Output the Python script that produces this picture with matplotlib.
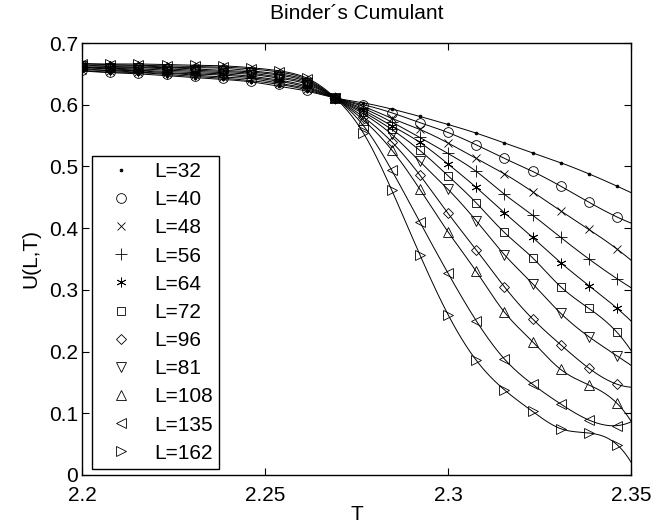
import numpy as np
import matplotlib
matplotlib.use("Agg")
import matplotlib.pyplot as plt

plt.rcParams["font.family"] = ["Liberation Sans", "DejaVu Sans"]

# temperatures of the simulated points
T = [2.2, 2.2077, 2.2154, 2.2231, 2.2308, 2.2385, 2.2462, 2.2538, 2.2615, 2.2692,
     2.2769, 2.2846, 2.2923, 2.3, 2.3077, 2.3154, 2.3231, 2.3308, 2.3385, 2.3462]

# U(L,T) for every lattice size
U_32 = [0.655, 0.652, 0.650, 0.647, 0.644, 0.641, 0.637, 0.630, 0.622, 0.611,
        0.603, 0.593, 0.581, 0.568, 0.554, 0.538, 0.522, 0.506, 0.488, 0.468]
U_40 = [0.656, 0.653, 0.652, 0.649, 0.646, 0.643, 0.639, 0.633, 0.624, 0.611,
        0.600, 0.587, 0.571, 0.555, 0.535, 0.513, 0.492, 0.468, 0.442, 0.418]
U_48 = [0.657, 0.655, 0.653, 0.651, 0.648, 0.645, 0.642, 0.635, 0.626, 0.611,
        0.597, 0.578, 0.560, 0.538, 0.513, 0.488, 0.459, 0.428, 0.398, 0.366]
U_56 = [0.659, 0.656, 0.655, 0.652, 0.650, 0.648, 0.644, 0.638, 0.628, 0.611,
        0.594, 0.572, 0.547, 0.521, 0.492, 0.455, 0.421, 0.385, 0.350, 0.318]
U_64 = [0.660, 0.658, 0.656, 0.654, 0.652, 0.650, 0.646, 0.640, 0.630, 0.611,
        0.591, 0.566, 0.539, 0.504, 0.466, 0.425, 0.385, 0.344, 0.307, 0.270]
U_72 = [0.661, 0.659, 0.658, 0.656, 0.654, 0.652, 0.649, 0.643, 0.633, 0.611,
        0.588, 0.560, 0.526, 0.485, 0.441, 0.393, 0.352, 0.305, 0.270, 0.231]
U_81 = [0.662, 0.660, 0.660, 0.658, 0.656, 0.654, 0.651, 0.645, 0.635, 0.611,
        0.585, 0.552, 0.508, 0.463, 0.412, 0.357, 0.310, 0.262, 0.224, 0.193]
U_96 = [0.663, 0.662, 0.661, 0.660, 0.658, 0.656, 0.653, 0.648, 0.637, 0.611,
        0.580, 0.540, 0.486, 0.424, 0.365, 0.305, 0.253, 0.211, 0.173, 0.147]
U_108 = [0.665, 0.663, 0.663, 0.661, 0.660, 0.659, 0.655, 0.650, 0.639, 0.611,
         0.575, 0.527, 0.463, 0.394, 0.330, 0.264, 0.216, 0.171, 0.146, 0.116]
U_135 = [0.666, 0.665, 0.664, 0.663, 0.662, 0.661, 0.658, 0.653, 0.641, 0.611,
         0.566, 0.494, 0.410, 0.327, 0.250, 0.188, 0.147, 0.115, 0.089, 0.080]
U_162 = [0.667, 0.666, 0.666, 0.665, 0.664, 0.663, 0.660, 0.655, 0.643, 0.611,
         0.554, 0.462, 0.357, 0.260, 0.186, 0.138, 0.103, 0.075, 0.068, 0.049]

labels = ["L=32", "L=40", "L=48", "L=56", "L=64", "L=72", "L=96", "L=81",
          "L=108", "L=135", "L=162"]
series = [U_32, U_40, U_48, U_56, U_64, U_72, U_96, U_81, U_108, U_135, U_162]
markers = [".", "o", "x", "+", (6, 2, 0), "s", "D", "v", "^", "<", ">"]
sizes = [4, 7, 6, 8, 7, 6, 5.5, 7, 7, 7, 7]


def spline(x, y, xs):
    # cubic spline, not-a-knot ends (like matlab spline), extrapolates with end cubic
    x = np.asarray(x, float)
    y = np.asarray(y, float)
    n = len(x)
    h = np.diff(x)
    A = np.zeros((n, n))
    r = np.zeros(n)
    for i in range(1, n - 1):
        A[i, i - 1] = h[i - 1]
        A[i, i] = 2 * (h[i - 1] + h[i])
        A[i, i + 1] = h[i]
        r[i] = 6 * ((y[i + 1] - y[i]) / h[i] - (y[i] - y[i - 1]) / h[i - 1])
    A[0, 0], A[0, 1], A[0, 2] = -h[1], h[0] + h[1], -h[0]
    A[-1, -3], A[-1, -2], A[-1, -1] = -h[-1], h[-2] + h[-1], -h[-2]
    M = np.linalg.solve(A, r)
    idx = np.clip(np.searchsorted(x, xs) - 1, 0, n - 2)
    t = xs - x[idx]
    hi = h[idx]
    b = (y[idx + 1] - y[idx]) / hi - hi * (2 * M[idx] + M[idx + 1]) / 6
    return y[idx] + b * t + M[idx] / 2 * t ** 2 + (M[idx + 1] - M[idx]) / (6 * hi) * t ** 3


fig = plt.figure(figsize=(6.69, 5.31), dpi=100)
ax = fig.add_axes([0.1226, 0.1055, 0.8206, 0.8135])

tt = np.linspace(2.2, 2.35, 400)
for u in series:
    ax.plot(tt, spline(T, u, tt), color="black", lw=0.7)

handles = []
for u, m, s, lab in zip(series, markers, sizes, labels):
    h, = ax.plot(T, u, linestyle="none", marker=m, markersize=s,
                 markerfacecolor="none" if m != "." else "black",
                 markeredgecolor="black", markeredgewidth=0.6, label=lab)
    handles.append(h)

ax.set_xlim(2.2, 2.35)
ax.set_ylim(0, 0.7)
ax.set_xticks([2.2, 2.25, 2.3, 2.35])
ax.set_xticklabels(["2.2", "2.25", "2.3", "2.35"])
ax.set_yticks([0, 0.1, 0.2, 0.3, 0.4, 0.5, 0.6, 0.7])
ax.set_yticklabels(["0", "0.1", "0.2", "0.3", "0.4", "0.5", "0.6", "0.7"])
ax.tick_params(direction="in", top=True, right=True, length=5, width=0.8,
               labelsize=15)
ax.tick_params(axis="y", pad=3)
ax.tick_params(axis="x", pad=8)
for sp in ax.spines.values():
    sp.set_linewidth(1.0)

ax.set_title("Binder\u00b4s Cumulant", fontsize=15, pad=17)
ax.set_xlabel("T", fontsize=15, labelpad=0)
ax.set_ylabel("U(L,T)", fontsize=15, labelpad=6)

leg = ax.legend(handles=handles, loc="upper left", bbox_to_anchor=(0.0177, 0.739),
                borderaxespad=0, fontsize=15, fancybox=False, framealpha=1,
                edgecolor="black", labelspacing=0.44, handlelength=2.2,
                handletextpad=0.5, borderpad=0.3)
leg.get_frame().set_linewidth(1.0)

fig.savefig("out.png", dpi=100)
